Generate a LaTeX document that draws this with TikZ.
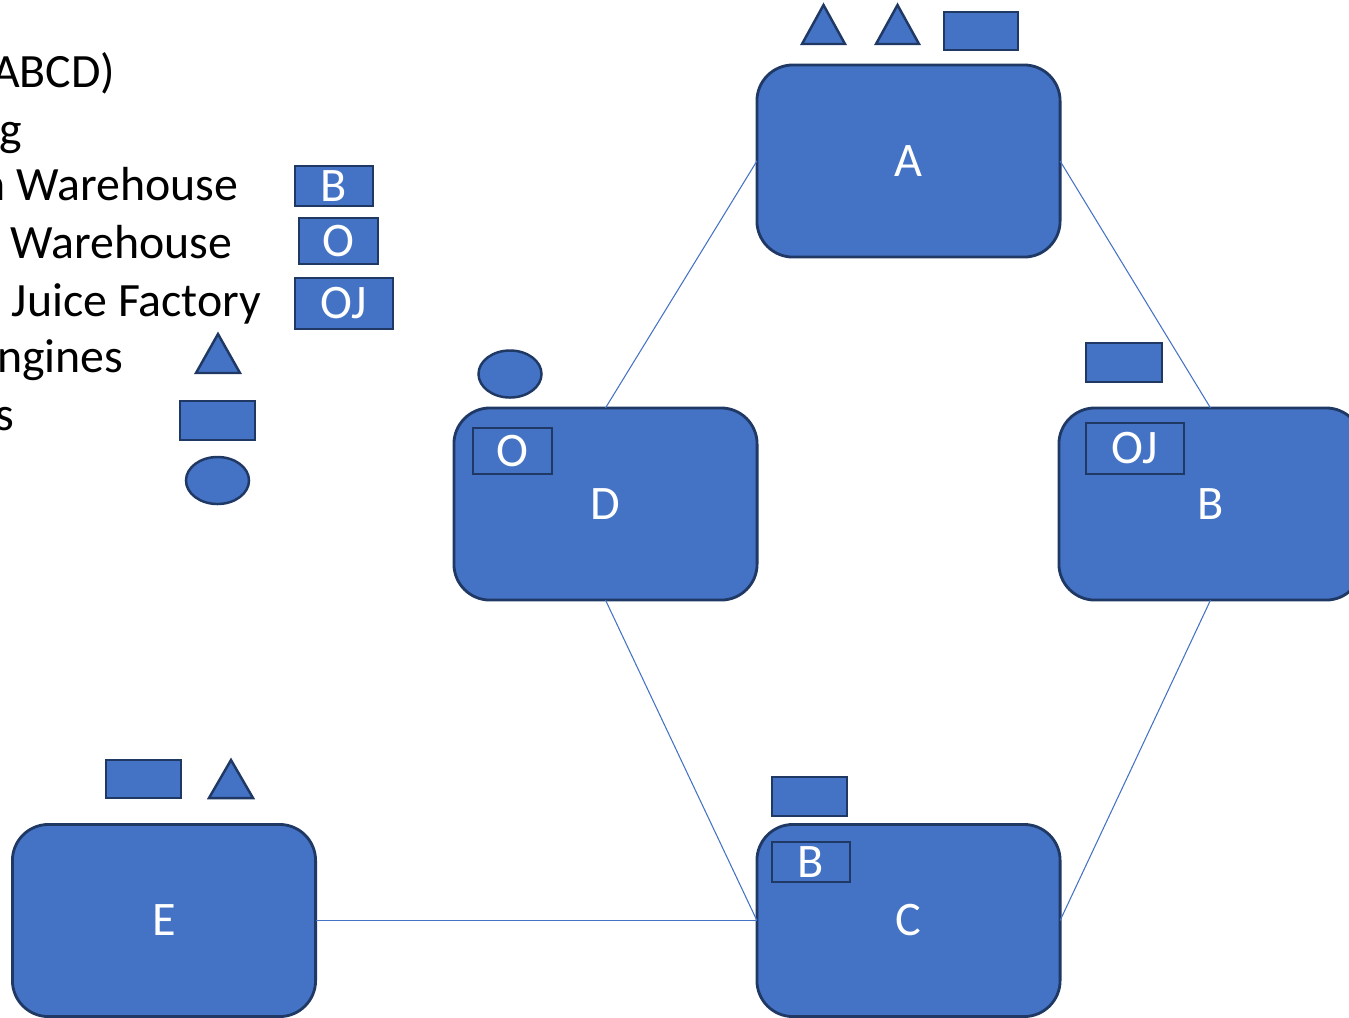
\documentclass[tikz,border=0pt]{standalone}
\usepackage{fontspec}
\setmainfont{Carlito}
\usetikzlibrary{shapes.geometric}
\definecolor{fillblue}{HTML}{4472C4}
\definecolor{edgeblue}{HTML}{1F3864}
\definecolor{lineblue}{HTML}{4472C4}
\tikzset{
  site/.style={draw=edgeblue, fill=fillblue, line width=0.8pt, rounded corners=0.36cm,
    minimum width=3.03cm, minimum height=1.92cm, inner sep=0pt, outer sep=0pt,
    text=white, font=\fontsize{13.7}{16}\selectfont},
  tag/.style={draw=edgeblue, fill=fillblue, line width=0.7pt, inner sep=0pt, outer sep=0pt,
    text=white, font=\fontsize{13.7}{16}\selectfont},
  blob/.style={draw=edgeblue, fill=fillblue, line width=0.7pt, ellipse, inner sep=0pt},
  tri/.style={draw=edgeblue, fill=fillblue, line width=0.7pt, line join=miter},
  conn/.style={draw=lineblue, line width=0.3pt},
  legtext/.style={anchor=base east, inner sep=0pt, font=\fontsize{13.6}{16}\selectfont},
}
\begin{document}
\begin{tikzpicture}[x=0.01cm, y=-0.01cm]
\useasboundingbox (0,0) rectangle (1349,1017);
\clip (0,0) rectangle (1349,1017);

% legend text
\node[legtext] (l1) at (116,87) {ABCD)};
\node[legtext] (l2) at (23,145) {g};
\node[legtext] (l3) at (239,200) {n Warehouse};
\node[legtext] (l4) at (233,258) {Warehouse};
\node[legtext] (l5) at (262,316) {Juice Factory};
\node[legtext] (l6) at (124,372) {ngines};
\node[legtext] (l7) at (15,430) {s};

% legend symbols
\node[tag, minimum width=0.78cm, minimum height=0.40cm] (kB) at (334,186) {B};
\node[tag, minimum width=0.79cm, minimum height=0.46cm] (kO) at (338.5,241) {O};
\node[tag, minimum width=0.98cm, minimum height=0.51cm] (kOJ) at (344,303.5) {OJ};
\draw[tri] (196,373) -- (218,334) -- (240,373) -- cycle;
\node[tag, minimum width=0.75cm, minimum height=0.39cm] (kR) at (217.5,420.5) {};
\node[blob, minimum width=0.63cm, minimum height=0.47cm] (kE) at (217.5,480.5) {};

% sites
\node[site] (A) at (908.5,161) {A};
\node[site] (D) at (605.5,504) {D};
\node[site] (B) at (1210.5,504) {B};
\node[site] (C) at (908.5,920.5) {C};
\node[site] (E) at (164,920.5) {E};

% connectors
\draw[conn] (A.west) -- (D.north);
\draw[conn] (A.east) -- (B.north);
\draw[conn] (D.south) -- (C.west);
\draw[conn] (B.south) -- (C.east);
\draw[conn] (E.east) -- (C.west);

% items at A
\draw[tri] (802,44) -- (823.5,5) -- (845,44) -- cycle;
\draw[tri] (876,44) -- (897.5,5) -- (919,44) -- cycle;
\node[tag, minimum width=0.74cm, minimum height=0.38cm] (aR) at (981,31) {};

% items at D
\node[blob, minimum width=0.63cm, minimum height=0.47cm] (dE) at (510,374) {};
\node[tag, minimum width=0.79cm, minimum height=0.46cm] (dO) at (512.5,451) {O};

% items at B
\node[tag, minimum width=0.76cm, minimum height=0.39cm] (bR) at (1124,362.5) {};
\node[tag, minimum width=0.98cm, minimum height=0.51cm] (bOJ) at (1135,448.5) {OJ};

% items at C
\node[tag, minimum width=0.75cm, minimum height=0.39cm] (cR) at (809.5,796.5) {};
\node[tag, minimum width=0.78cm, minimum height=0.40cm] (cB) at (811,862) {B};

% items at E
\node[tag, minimum width=0.75cm, minimum height=0.38cm] (eR) at (143.5,779) {};
\draw[tri] (209,798) -- (231,760) -- (253,798) -- cycle;
\end{tikzpicture}
\end{document}
